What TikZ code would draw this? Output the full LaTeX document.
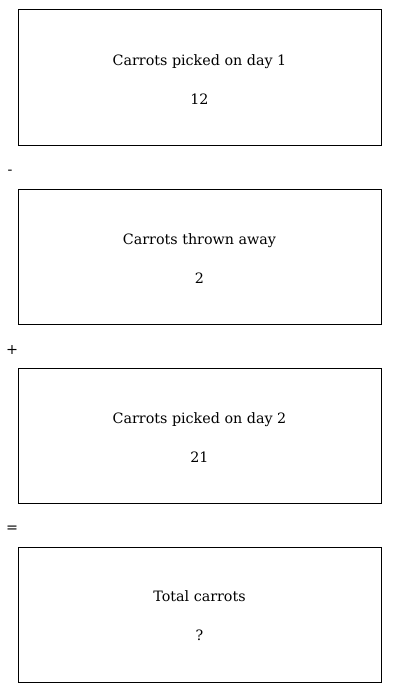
\documentclass[tikz,border=0pt]{standalone}
\usepackage{fontspec}
\setmainfont{DejaVu Serif}
\usetikzlibrary{positioning}

\newcommand{\boxstrut}{\rule{0pt}{14pt}}
\tikzset{
  qbox/.style={draw, line width=1pt, minimum width=363pt, minimum height=135pt,
    inner sep=0pt, outer sep=0pt, align=center, font=\fontsize{14.3}{19.5}\selectfont},
  opsign/.style={font=\fontsize{14.3}{15}\selectfont, inner sep=0pt}
}

\begin{document}
\begin{tikzpicture}[x=1pt, y=-1pt]
  \useasboundingbox (0,0) rectangle (400,693);

  % Boxes
  \node[qbox] (day1) at (199.5,77.5) {\boxstrut Carrots picked on day 1\\[19.5pt]12};
  \node[qbox, below=44pt of day1] (thrown) {\boxstrut Carrots thrown away\\[19.5pt]2};
  \node[qbox, below=44pt of thrown] (day2) {\boxstrut Carrots picked on day 2\\[19.5pt]21};
  \node[qbox, below=44pt of day2] (total) {\boxstrut Total carrots\\[19.5pt]?};

  % Signs
  \node[opsign] (minus) at (10,172) {-};
  \node[opsign] (plus) at (12,350) {+};
  \node[opsign] (equals) at (12,529) {=};
\end{tikzpicture}
\end{document}
